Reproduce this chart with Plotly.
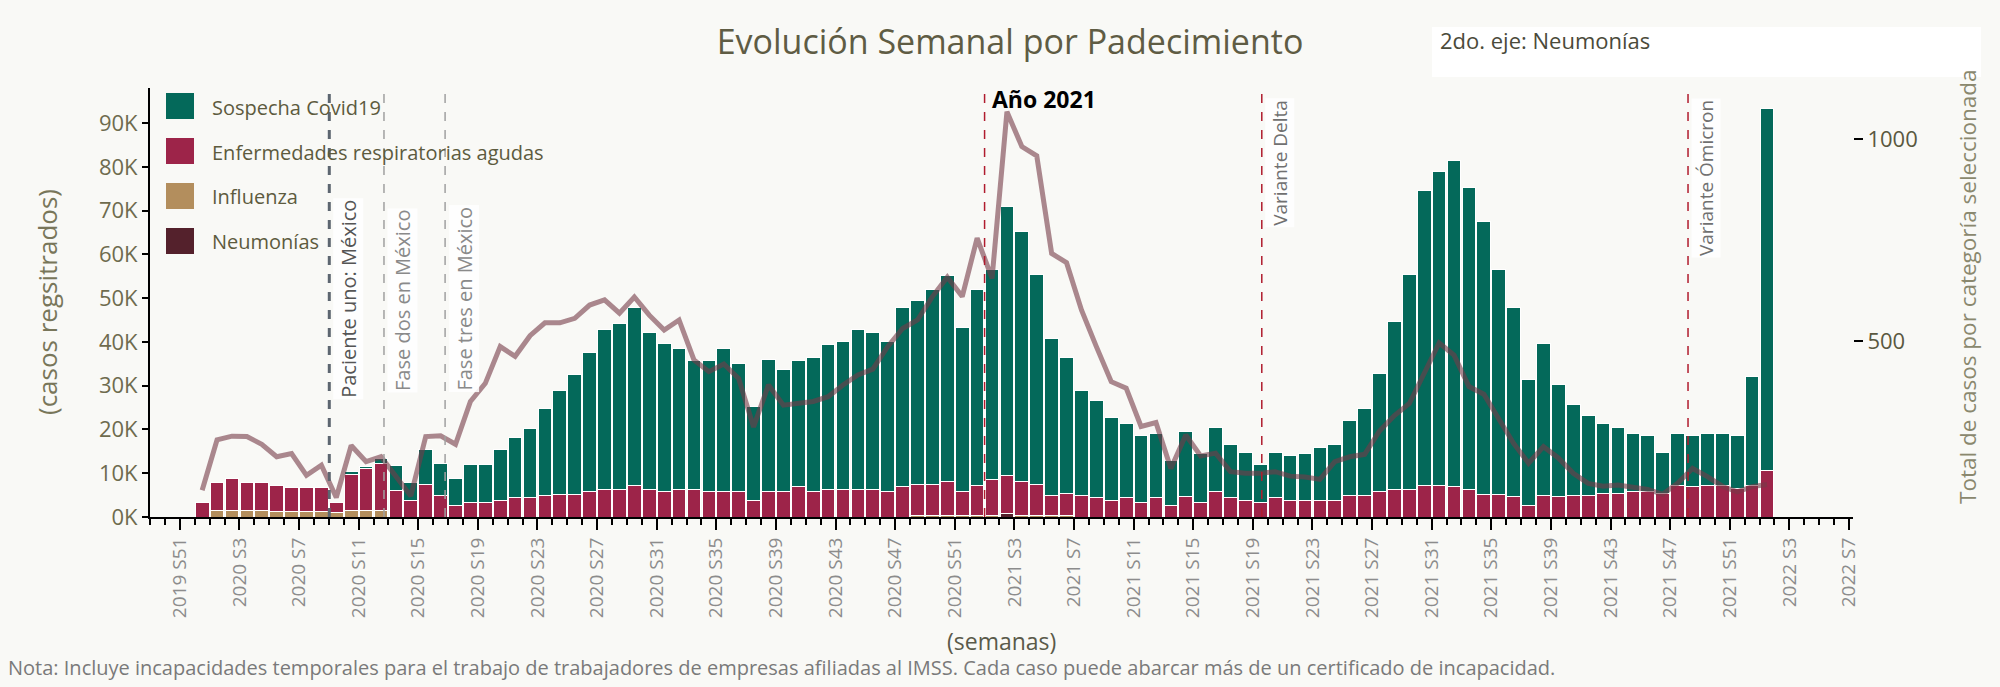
import plotly.graph_objects as go

# ---------------- data ----------------
weeks = (["2019 S52"] + [f"2020 S{w}" for w in range(1, 53)]
         + [f"2021 S{w}" for w in range(1, 53)] + ["2022 S1"])
axis_weeks = ["2019 S49", "2019 S50", "2019 S51"] + weeks + [f"2022 S{w}" for w in range(2, 9)]

tick_labels = ["2019 S51", "2020 S3", "2020 S7", "2020 S11", "2020 S15", "2020 S19",
               "2020 S23", "2020 S27", "2020 S31", "2020 S35", "2020 S39", "2020 S43",
               "2020 S47", "2020 S51", "2021 S3", "2021 S7", "2021 S11", "2021 S15",
               "2021 S19", "2021 S23", "2021 S27", "2021 S31", "2021 S35", "2021 S39",
               "2021 S43", "2021 S47", "2021 S51", "2022 S3", "2022 S7"]

sospecha_covid = [
    0, 0, 0, 0, 0, 0, 0, 0, 0, 0,
    700, 500, 1100, 5700, 4200, 8000, 7300, 6100, 8500, 8500,
    11800, 13600, 15800, 20000, 23800, 27400, 31700, 36700, 38100, 40800,
    35900, 33800, 32400, 29500, 29800, 32700, 29100, 21500, 30100, 27700,
    28700, 30500, 33100, 33800, 36700, 35900, 34100, 41000, 41900, 44400,
    47000, 37400, 44800, 48000, 61400, 57100, 48000, 35800, 31100, 24100,
    22200, 19100, 16800, 15300, 14600, 10300, 14900, 11200, 14600, 12100,
    11100, 8500, 10300, 10400, 10700, 12200, 12900, 17200, 20100, 26900,
    38400, 49300, 67300, 71800, 74500, 69100, 62300, 51500, 43300, 28600,
    34700, 25700, 20600, 18100, 16000, 15200, 13200, 12800, 9500, 11900,
    11800, 11900, 11900, 12200, 25000, 82700]

enf_resp_agudas = [
    3300, 6500, 7100, 6300, 6300, 6000, 5600, 5600, 5600, 2300,
    8200, 9600, 10900, 6000, 3700, 7500, 5000, 2700, 3400, 3400,
    3700, 4500, 4500, 4900, 5100, 5100, 5900, 6200, 6200, 7100,
    6200, 5900, 6200, 6200, 5900, 5900, 5900, 3700, 5900, 5900,
    7000, 5900, 6200, 6200, 6200, 6200, 5900, 6900, 7100, 7100,
    7800, 5500, 6700, 8100, 8800, 7700, 7100, 4600, 4900, 4800,
    4500, 3700, 4500, 3400, 4500, 2700, 4600, 3400, 5900, 4500,
    3700, 3400, 4500, 3700, 3700, 3700, 3700, 4800, 4800, 5900,
    6200, 6200, 7300, 7100, 6900, 6200, 5100, 5100, 4600, 2700,
    5000, 4600, 5000, 5000, 5300, 5300, 5900, 5900, 5300, 7200,
    6900, 7200, 7200, 6500, 7200, 10600]

influenza = [
    0, 1400, 1600, 1600, 1600, 1200, 1200, 1200, 1200, 1000,
    1600, 1400, 1400, 0, 0, 0, 0, 0, 0, 0,
    0, 0, 0, 0, 0, 0, 0, 0, 0, 0,
    0, 0, 0, 0, 0, 0, 0, 0, 0, 0,
    0, 0, 0, 0, 0, 0, 0, 0, 400, 400,
    400, 400, 400, 400, 0, 400, 400, 400, 400, 0,
    0, 0, 0, 0, 0, 0, 0, 0, 0, 0,
    0, 0, 0, 0, 0, 0, 0, 0, 0, 0,
    0, 0, 0, 0, 0, 0, 0, 0, 0, 0,
    0, 0, 0, 0, 0, 0, 0, 0, 0, 0,
    0, 0, 0, 0, 0, 0]

neumonias = [
    0, 0, 0, 0, 0, 0, 0, 0, 0, 0,
    0, 0, 0, 0, 0, 0, 0, 0, 0, 0,
    0, 0, 0, 0, 0, 0, 0, 0, 0, 0,
    0, 0, 0, 0, 0, 0, 0, 0, 0, 0,
    0, 0, 0, 0, 0, 0, 0, 0, 0, 0,
    0, 0, 0, 0, 700, 0, 0, 0, 0, 0,
    0, 0, 0, 0, 0, 0, 0, 0, 0, 0,
    0, 0, 0, 0, 0, 0, 0, 0, 0, 0,
    0, 0, 0, 0, 0, 0, 0, 0, 0, 0,
    0, 0, 0, 0, 0, 0, 0, 0, 0, 0,
    0, 0, 0, 0, 0, 0]

# second axis: Neumonías (line)
neumonias_2do_eje = [
    130, 255, 264, 263, 244, 213, 221, 167, 192, 112,
    241, 201, 213, 165, 116, 263, 265, 244, 350, 395,
    486, 462, 513, 545, 545, 556, 589, 602, 569, 609,
    564, 527, 552, 453, 424, 443, 407, 287, 391, 341,
    344, 350, 362, 391, 416, 430, 486, 531, 552, 610,
    658, 610, 755, 655, 1068, 982, 959, 717, 694, 577,
    486, 399, 383, 288, 298, 184, 267, 215, 222, 176,
    172, 172, 176, 165, 163, 157, 201, 213, 219, 277,
    315, 345, 420, 495, 465, 387, 368, 304, 246, 197,
    238, 210, 172, 147, 140, 143, 136, 132, 120, 147,
    184, 164, 140, 126, 139, 144]

# events: week label + fraction of the week
event_names = ["Paciente uno: México", "Fase dos en México", "Fase tres en México",
               "Año 2021", "Variante Delta", "Variante Ómicron"]
event_weeks = ["2020 S9", "2020 S12", "2020 S16", "2021 S1", "2021 S19", "2021 S48"]
event_frac = [0.03, 0.7, 0.8, 0.0, 0.6, 0.2]

series_names = ["Sospecha Covid19", "Enfermedades respiratorias agudas", "Influenza", "Neumonías"]
series_colors = ["#04695a", "#9d2449", "#b38e5d", "#54212c"]

# ---------------- figure ----------------
FONT = "Open Sans"
W, H = 2000, 687
L, R, T, B = 150, 147, 88, 170
PW, PH = W - L - R, H - T - B


def px(xp):
    return (xp - L) / PW


def py(yp):
    return (H - B - yp) / PH


x_pos = [axis_weeks.index(w) + 0.5 for w in weeks]


def nz(vals):
    return [v if v else None for v in vals]


fig = go.Figure()
stack = [(series_names[3], neumonias, series_colors[3]),
         (series_names[2], influenza, series_colors[2]),
         (series_names[1], enf_resp_agudas, series_colors[1]),
         (series_names[0], sospecha_covid, series_colors[0])]
for name, vals, col in stack:
    fig.add_trace(go.Bar(x=x_pos, y=nz(vals), name=name, width=0.92,
                         marker=dict(color=col, line=dict(color="white", width=1)),
                         showlegend=False))

fig.add_trace(go.Scatter(x=x_pos, y=neumonias_2do_eje, yaxis="y2", mode="lines",
                         name="Neumonías (2do. eje)",
                         line=dict(color="rgba(116,58,72,0.6)", width=5),
                         showlegend=False))

shapes = []
annotations = []

# event lines
line_styles = [dict(color="#5d6670", width=3, dash="dash"),
               dict(color="#a0a0a0", width=1.5, dash="dash"),
               dict(color="#a0a0a0", width=1.5, dash="dash"),
               dict(color="#b01c2e", width=1.5, dash="dash"),
               dict(color="#b01c2e", width=1.5, dash="dash"),
               dict(color="#b01c2e", width=1.5, dash="dash")]
text_colors = ["#555555", "#8a8a8a", "#8a8a8a", "#000000", "#707070", "#707070"]
for k, (nm, wk, fr) in enumerate(zip(event_names, event_weeks, event_frac)):
    ex = axis_weeks.index(wk) + fr
    shapes.append(dict(type="line", xref="x", yref="paper", x0=ex, x1=ex, y0=0, y1=1,
                       line=line_styles[k], layer="above"))
    if nm == "Año 2021":
        annotations.append(dict(x=ex, y=py(99), xref="x", yref="paper", text="<b>Año 2021</b>",
                                showarrow=False, xanchor="left", yanchor="middle", xshift=5,
                                font=dict(family=FONT, size=23, color="#000000")))
    elif k < 3:
        annotations.append(dict(x=ex, y=py(400 if k == 0 else 393), xref="x", yref="paper",
                                text=nm, textangle=-90, showarrow=False, xanchor="left",
                                yanchor="bottom", xshift=3, bgcolor="rgba(255,255,255,0.85)",
                                borderpad=1,
                                font=dict(family=FONT, size=20, color=text_colors[k])))
    else:
        annotations.append(dict(x=ex, y=py(98), xref="x", yref="paper",
                                text=nm, textangle=-90, showarrow=False, xanchor="left",
                                yanchor="top", xshift=3, bgcolor="rgba(255,255,255,0.85)",
                                borderpad=1,
                                font=dict(family=FONT, size=19, color=text_colors[k])))

# custom legend
for k, (nm, col) in enumerate(zip(series_names, series_colors)):
    top = 93 + 45 * k
    shapes.append(dict(type="rect", xref="paper", yref="paper", x0=px(166), x1=px(194),
                       y0=py(top + 26), y1=py(top), fillcolor=col, line=dict(width=0),
                       layer="above"))
    annotations.append(dict(x=px(210), y=py(top + 14), xref="paper", yref="paper", text=nm,
                            showarrow=False, xanchor="left", yanchor="middle",
                            font=dict(family=FONT, size=20, color="#5d5b3e")))

# white box for second-axis selector
shapes.append(dict(type="rect", xref="paper", yref="paper", x0=px(1432), x1=px(1981),
                   y0=py(77), y1=py(27), fillcolor="white", line=dict(width=0), layer="above"))
annotations.append(dict(x=px(1438), y=py(40), xref="paper", yref="paper",
                        text="2do. eje: Neumonías", showarrow=False, xanchor="left",
                        yanchor="middle", font=dict(family=FONT, size=22, color="#4a4a3a")))

# axis titles and notes
annotations.append(dict(x=px(47), y=py(302), xref="paper", yref="paper",
                        text="(casos regsitrados)", textangle=-90, showarrow=False,
                        xanchor="center", yanchor="middle",
                        font=dict(family=FONT, size=26, color="#78765a")))
annotations.append(dict(x=px(1967), y=py(287), xref="paper", yref="paper",
                        text="Total de casos por categoría seleccionada", textangle=-90,
                        showarrow=False, xanchor="center", yanchor="middle",
                        font=dict(family=FONT, size=22.5, color="#8a886e")))
annotations.append(dict(x=px(1001), y=py(641), xref="paper", yref="paper",
                        text="(semanas)", showarrow=False, xanchor="center", yanchor="middle",
                        font=dict(family=FONT, size=23, color="#5a5a4a")))
annotations.append(dict(x=px(6), y=py(667), xref="paper", yref="paper",
                        text="Nota: Incluye incapacidades temporales para el trabajo de trabajadores "
                             "de empresas afiliadas al IMSS. Cada caso puede abarcar más de un "
                             "certificado de incapacidad.",
                        showarrow=False, xanchor="left", yanchor="middle",
                        font=dict(family=FONT, size=20, color="#7a7a7a")))

fig.update_layout(
    width=W, height=H,
    margin=dict(l=L, r=R, t=T, b=B, pad=0),
    paper_bgcolor="#f9f9f6", plot_bgcolor="#f9f9f6",
    barmode="stack",
    showlegend=False,
    title=dict(text="Evolución Semanal por Padecimiento", x=1010 / W, xanchor="center",
               y=1 - 42 / H, yanchor="middle",
               font=dict(family=FONT, size=34, color="#5f5c44")),
    xaxis=dict(range=[0, len(axis_weeks) - 1.73],
               tickmode="array",
               tickvals=[axis_weeks.index(t) for t in tick_labels],
               ticktext=tick_labels, tickangle=-90,
               ticks="outside", ticklen=11, tickwidth=1.5, tickcolor="black",
               minor=dict(ticks="outside", ticklen=6, tickwidth=1.5, tickcolor="black",
                          tickmode="linear", tick0=0, dtick=1, showgrid=False),
               showline=True, linecolor="black", linewidth=2,
               showgrid=False, zeroline=False,
               tickfont=dict(family=FONT, size=19, color="#8c8c8c")),
    yaxis=dict(range=[0, 98000],
               tickmode="array",
               tickvals=[0, 10000, 20000, 30000, 40000, 50000, 60000, 70000, 80000, 90000],
               ticktext=["0K", "10K", "20K", "30K", "40K", "50K", "60K", "70K", "80K", "90K"],
               ticks="outside", ticklen=6, tickwidth=1.5, tickcolor="black",
               showline=True, linecolor="black", linewidth=2,
               showgrid=False, zeroline=False,
               tickfont=dict(family=FONT, size=22, color="#6e6b4e")),
    yaxis2=dict(overlaying="y", side="right", range=[63.7, 1127],
                tickmode="array", tickvals=[500, 1000],
                ticks="outside", ticklen=9, tickwidth=1.5, tickcolor="black",
                showline=False, showgrid=False, zeroline=False,
                tickfont=dict(family=FONT, size=22, color="#5a5840")),
    shapes=shapes,
    annotations=annotations,
    font=dict(family=FONT),
)

fig.write_html("out.html", config={"displayModeBar": False},
               post_script="document.body.style.margin='0';document.body.style.overflow='hidden';")
